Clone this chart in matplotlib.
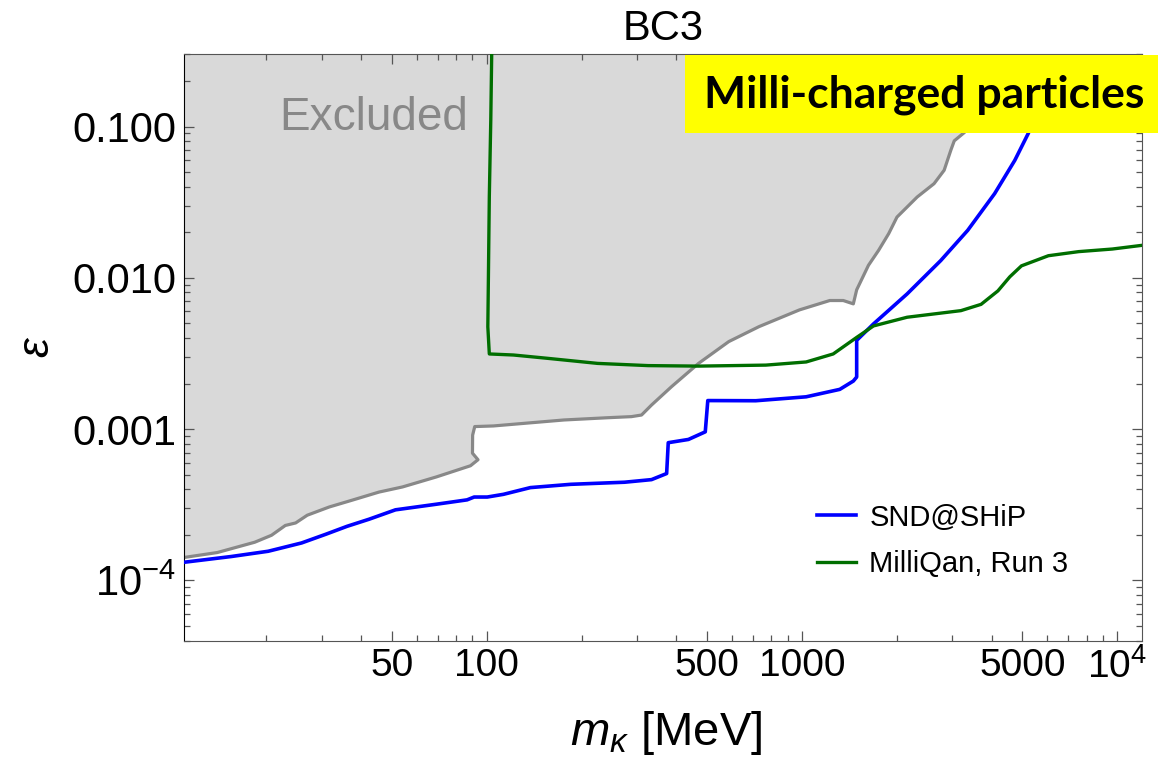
import numpy as np
import matplotlib
matplotlib.use('Agg')
import matplotlib.pyplot as plt
from matplotlib.patches import Rectangle
from matplotlib.ticker import FixedLocator, FixedFormatter, LogLocator, NullFormatter

plt.rcParams['font.family'] = ['Liberation Sans', 'DejaVu Sans']
plt.rcParams['mathtext.fontset'] = 'custom'
plt.rcParams['mathtext.rm'] = 'Liberation Sans'
plt.rcParams['mathtext.it'] = 'Liberation Sans:italic'

# vung bi loai tru (bien duoi cua vung xam)
excl_m = [11, 14.0, 18.4, 20.8, 23.0, 24.8, 27.0, 31.7, 37.4, 45.6, 54.1, 69.2,
          88.9, 93.9, 90.2, 90.3, 91.7, 105.1, 176, 242, 288, 310, 333, 386,
          470, 586, 731, 982, 1225, 1352, 1455, 1491, 1625, 1750, 1884, 2001,
          2319, 2623, 2824, 2965, 3040, 3273, 3744, 4502]
excl_eps = [1.42e-4, 1.53e-4, 1.79e-4, 1.99e-4, 2.31e-4, 2.40e-4, 2.70e-4,
            3.06e-4, 3.39e-4, 3.84e-4, 4.15e-4, 4.83e-4, 5.73e-4, 6.28e-4,
            6.94e-4, 9.13e-4, 1.04e-3, 1.05e-3, 1.15e-3, 1.19e-3, 1.21e-3,
            1.24e-3, 1.44e-3, 1.91e-3, 2.72e-3, 3.79e-3, 4.76e-3, 6.14e-3,
            7.08e-3, 7.08e-3, 6.73e-3, 8.33e-3, 1.21e-2, 1.52e-2, 1.96e-2,
            2.52e-2, 3.42e-2, 4.19e-2, 5.14e-2, 6.97e-2, 8.04e-2, 9.13e-2,
            0.130, 0.304]

# SND@SHiP
snd_m = [11, 15.5, 20.3, 25.9, 30.9, 36.1, 42.4, 51.4, 69.2, 86.7, 91.3, 100.5,
         113.1, 137.7, 184.9, 273.8, 333.4, 372.3, 376.7, 436.5, 493.6, 502.8,
         713.7, 1031, 1318, 1455, 1491, 1491, 1686, 2155, 2754, 3354, 4082,
         4731, 5217, 5828]
snd_eps = [1.32e-4, 1.44e-4, 1.56e-4, 1.77e-4, 2.02e-4, 2.28e-4, 2.54e-4,
           2.93e-4, 3.19e-4, 3.41e-4, 3.56e-4, 3.56e-4, 3.71e-4, 4.11e-4,
           4.32e-4, 4.46e-4, 4.64e-4, 5.09e-4, 8.14e-4, 8.55e-4, 9.60e-4,
           1.545e-3, 1.541e-3, 1.636e-3, 1.832e-3, 2.079e-3, 2.21e-3, 3.86e-3,
           4.96e-3, 7.83e-3, 1.30e-2, 2.06e-2, 3.60e-2, 5.98e-2, 8.99e-2,
           0.151]

# MilliQan, Run 3
mq_m = [103.9, 103.1, 102.0, 101.3, 100.9, 102.0, 121.7, 155.6, 224.9, 325.1,
        469.9, 768.2, 1031, 1256, 1491, 1686, 2155, 3192, 3698, 4182, 4560,
        4966, 6045, 7541, 9638, 12850]
mq_eps = [0.35, 0.111, 0.0344, 9.70e-3, 4.74e-3, 3.14e-3, 3.09e-3, 2.94e-3,
          2.72e-3, 2.63e-3, 2.61e-3, 2.65e-3, 2.78e-3, 3.14e-3, 4.04e-3,
          4.81e-3, 5.49e-3, 6.07e-3, 6.68e-3, 8.20e-3, 1.015e-2, 1.20e-2,
          1.40e-2, 1.49e-2, 1.55e-2, 1.67e-2]

x_ticks = [50, 100, 500, 1000, 5000, 10000]
x_labels = ['50', '100', '500', '1000', '5000', r'$\mathregular{10^{4}}$']
y_ticks = [1e-4, 1e-3, 1e-2, 1e-1]
y_labels = [r'$\mathregular{10^{-4}}$', '0.001', '0.010', '0.100']

fig = plt.figure(figsize=(11.58, 7.58), dpi=100)
ax = fig.add_axes([0.15915, 0.15475, 0.82729, 0.77361])
ax.set_xscale('log')
ax.set_yscale('log')

# to vung xam phia tren bien
poly_x = excl_m + [excl_m[-1], excl_m[0]]
poly_y = excl_eps + [1.0, 1.0]
ax.fill(poly_x, poly_y, color='#d9d9d9', lw=0, zorder=1)
ax.plot(excl_m, excl_eps, color='#888888', lw=2.3, zorder=2)

ax.plot(snd_m, snd_eps, color='#0000ff', lw=2.6, zorder=3, label='SND@SHiP')
ax.plot(mq_m, mq_eps, color='#006e00', lw=2.4, zorder=4, label='MilliQan, Run 3')

ax.set_xlim(11, 12000)
ax.set_ylim(4e-5, 0.3)

ax.xaxis.set_major_locator(FixedLocator(x_ticks))
ax.xaxis.set_major_formatter(FixedFormatter(x_labels))
ax.xaxis.set_minor_locator(LogLocator(base=10, subs=np.arange(2, 10)))
ax.xaxis.set_minor_formatter(NullFormatter())
ax.yaxis.set_major_locator(FixedLocator(y_ticks))
ax.yaxis.set_major_formatter(FixedFormatter(y_labels))
ax.yaxis.set_minor_locator(LogLocator(base=10, subs=np.arange(2, 10)))
ax.yaxis.set_minor_formatter(NullFormatter())

ax.tick_params(which='both', direction='in', top=True, right=True, color='#555555', width=0.9)
ax.tick_params(which='major', length=7)
ax.tick_params(which='minor', length=4)
ax.tick_params(axis='x', which='major', labelsize=28, pad=5)
ax.tick_params(axis='y', which='major', labelsize=30, pad=6)
for side in ['top', 'right', 'bottom']:
    ax.spines[side].set_color('#555555')
ax.spines['left'].set_color('black')

ax.set_title('BC3', fontsize=30, pad=10)
fig.text(0.575, 1 - 745 / 758, r'$m_\kappa$ [MeV]', fontsize=34, ha='center', va='baseline')
fig.text(0.032, 0.542, r'$\epsilon$', fontsize=32, rotation=90, ha='center', va='center')

ax.text(0.0989, 0.8709, 'Excluded', transform=ax.transAxes, fontsize=33,
        color='#888888', ha='left', va='baseline', zorder=5)

ax.legend(loc='center left', bbox_to_anchor=(0.7055, 0.2863), bbox_transform=fig.transFigure,
          frameon=False, fontsize=21, handlelength=1.35, handletextpad=0.45,
          labelspacing=0.65, borderpad=0, borderaxespad=0)

# hop nhan mau vang
fig.add_artist(Rectangle((0.5915, 0.8245), 0.4085, 0.1029, transform=fig.transFigure,
                         facecolor='#ffff00', edgecolor='none', zorder=10))
fig.text(0.7983, 1 - 95 / 758, 'Milli-charged particles', fontsize=32, fontweight='bold',
         family='Lato', ha='center', va='center', zorder=11)

fig.savefig('out.png', dpi=100)
